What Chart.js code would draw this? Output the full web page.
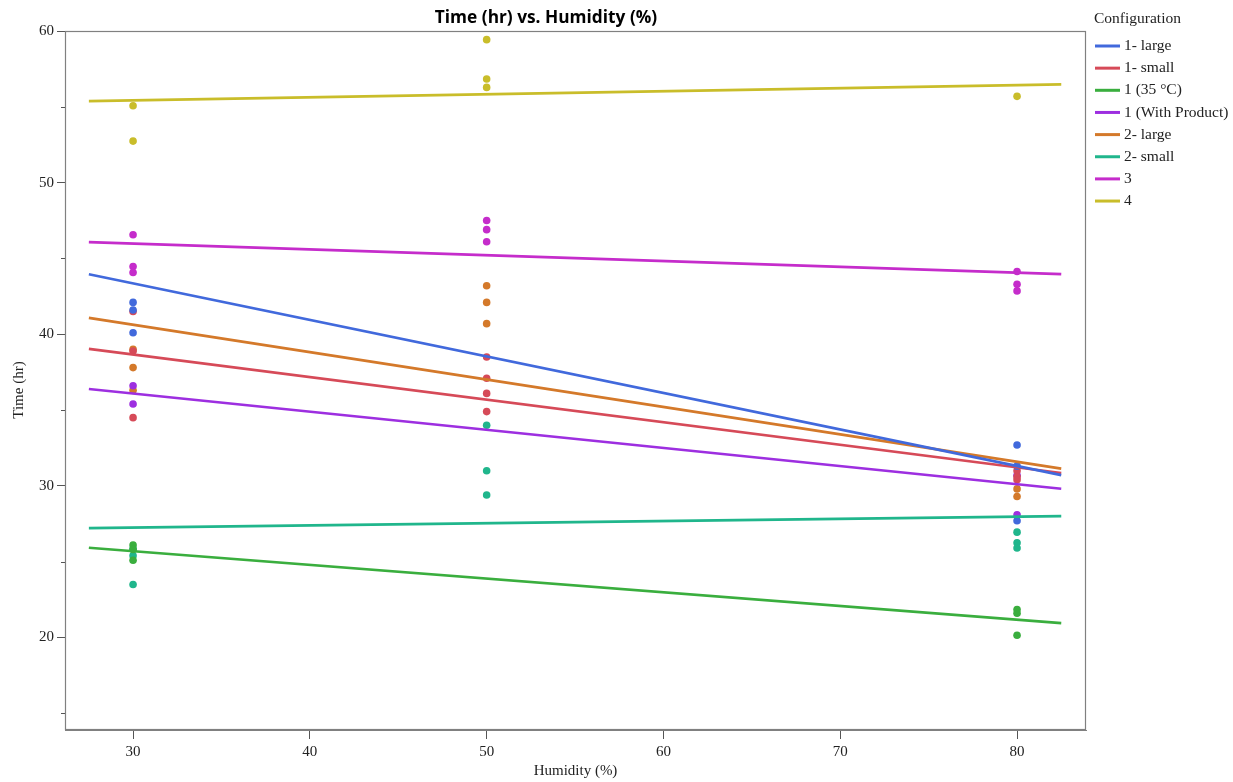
<!DOCTYPE html>
<html>
<head>
<meta charset="utf-8">
<script src="https://cdn.jsdelivr.net/npm/chart.js@4/dist/chart.umd.min.js"></script>
<style>
  html, body { margin: 0; padding: 0; background: #ffffff; }
  #wrap { width: 1233px; height: 782px; position: relative; }
  canvas { display: block; }
</style>
</head>
<body>
<div id="wrap"><canvas id="c" width="1233" height="782"></canvas></div>
<script>
// ---- Data ----
const humidity = [30, 50, 80];
const configurations = ['1- large', '1- small', '1 (35 °C)', '1 (With Product)', '2- large', '2- small', '3', '4'];

// observed times, grouped by humidity level [30, 50, 80]
const large1      = [[42.1, 41.6, 40.1], [], [32.7, 31.3, 27.7]];
const small1      = [[41.5, 38.9, 34.5], [38.5, 37.1, 36.1, 34.9], [31.0, 30.6, 30.4]];
const temp35      = [[26.1, 25.8, 25.1], [], [21.85, 21.6, 20.15]];
const withProduct = [[36.6, 35.4], [], [30.7, 28.1]];
const large2      = [[39.0, 37.8, 36.3], [43.2, 42.1, 40.7], [29.8, 29.3]];
const small2      = [[25.85, 25.4, 23.5], [34.0, 31.0, 29.4], [26.95, 26.25, 25.9]];
const config3     = [[46.56, 44.47, 44.07], [47.5, 46.9, 46.1], [44.14, 43.3, 42.86]];
const config4     = [[55.07, 52.74], [59.43, 56.83, 56.28], [55.69]];

// fitted lines: humidity span and fitted times at both ends
const fitX = [27.5, 82.5];
const fitStart = [43.96, 39.03, 25.92, 36.39, 41.08, 27.22, 46.07, 55.38];
const fitEnd   = [30.71, 30.85, 20.95, 29.81, 31.14, 28.00, 43.96, 56.48];

const yTicks = [15, 20, 25, 30, 35, 40, 45, 50, 55, 60];
const xTicks = [30, 40, 50, 60, 70, 80];

// ---- Styles ----
const colors = ['#4169dc', '#d64a58', '#3aae3e', '#9d2fe0', '#d4792a', '#20b68c', '#c52ccb', '#c9bd2a'];
const serif = '"Liberation Serif", "DejaVu Serif", serif';

const observed = [large1, small1, temp35, withProduct, large2, small2, config3, config4];

const datasets = [];
observed.forEach((groups, i) => {
  const pts = [];
  groups.forEach((vals, h) => vals.forEach(v => pts.push({ x: humidity[h], y: v })));
  datasets.push({
    type: 'scatter', label: configurations[i] + ' pts', data: pts,
    backgroundColor: colors[i], borderWidth: 0, pointRadius: 3.8, pointHoverRadius: 3.8,
    showLine: false, order: 2
  });
  datasets.push({
    type: 'line', label: configurations[i], data: [{ x: fitX[0], y: fitStart[i] }, { x: fitX[1], y: fitEnd[i] }],
    borderColor: colors[i], borderWidth: 2.7, pointRadius: 0, fill: false, order: 1
  });
});

const decor = {
  id: 'decor',
  afterDraw(chart) {
    const ctx = chart.ctx, a = chart.chartArea;
    const ys = chart.scales.y;
    ctx.save();
    // plot frame
    ctx.strokeStyle = '#808080'; ctx.lineWidth = 1.2;
    ctx.strokeRect(a.left + 0.5, a.top + 0.5, a.right - a.left - 1, a.bottom - a.top - 1);
    // minor y ticks
    ctx.strokeStyle = '#555'; ctx.lineWidth = 1;
    yTicks.filter(v => v % 10 !== 0).forEach(v => {
      const py = Math.round(ys.getPixelForValue(v)) + 0.5;
      ctx.beginPath(); ctx.moveTo(a.left - 4, py); ctx.lineTo(a.left, py); ctx.stroke();
    });
    // title
    ctx.fillStyle = '#000';
    ctx.font = 'bold 17.3px "Open Sans", "DejaVu Sans", sans-serif';
    ctx.textAlign = 'center'; ctx.textBaseline = 'middle';
    ctx.fillText('Time (hr) vs. Humidity (%)', 546, 18);
    // axis titles
    ctx.fillStyle = '#222';
    ctx.font = '15px ' + serif;
    ctx.fillText('Humidity (%)', (a.left + a.right) / 2, 771);
    ctx.save();
    ctx.translate(19, 390);
    ctx.rotate(-Math.PI / 2);
    ctx.fillText('Time (hr)', 0, 0);
    ctx.restore();
    // legend
    ctx.textAlign = 'left';
    ctx.font = '15.5px ' + serif;
    ctx.fillStyle = '#222';
    ctx.fillText('Configuration', 1094, 19);
    configurations.forEach((name, i) => {
      const y = 46 + i * 22.15;
      ctx.strokeStyle = colors[i]; ctx.lineWidth = 3;
      ctx.beginPath(); ctx.moveTo(1095, y); ctx.lineTo(1120, y); ctx.stroke();
      ctx.fillStyle = '#222';
      ctx.fillText(name, 1124, y);
    });
    ctx.restore();
  }
};

new Chart(document.getElementById('c'), {
  data: { datasets },
  options: {
    responsive: false, animation: false, devicePixelRatio: 1,
    layout: { padding: { top: 31, right: 147, left: 0, bottom: 0 } },
    plugins: { legend: { display: false }, title: { display: false }, tooltip: { enabled: false } },
    scales: {
      x: {
        type: 'linear', min: 26.15, max: 83.9,
        afterBuildTicks: s => { s.ticks = xTicks.map(v => ({ value: v })); },
        afterFit: s => { s.height = 52; },
        grid: { drawOnChartArea: false, drawTicks: true, tickLength: 9, tickColor: '#555' },
        border: { display: true, color: '#808080', width: 1 },
        ticks: { font: { family: serif, size: 15 }, color: '#222', padding: 4, maxRotation: 0 }
      },
      y: {
        type: 'linear', min: 13.9, max: 60,
        afterBuildTicks: s => { s.ticks = yTicks.map(v => ({ value: v })); },
        afterFit: s => { s.width = 65; },
        grid: { drawOnChartArea: false, drawTicks: true, tickLength: 8,
                tickColor: c => (c.tick && c.tick.value % 10 === 0) ? '#555' : 'rgba(0,0,0,0)' },
        border: { display: true, color: '#808080', width: 1 },
        ticks: { font: { family: serif, size: 15 }, color: '#222', padding: 3,
                 callback: v => (v % 10 === 0 ? String(v) : '') }
      }
    }
  },
  plugins: [decor]
});
</script>
</body>
</html>
